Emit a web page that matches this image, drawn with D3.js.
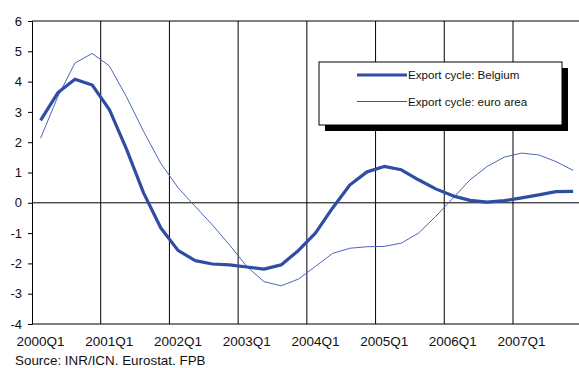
<!DOCTYPE html>
<html>
  <head>
    <meta charset="utf-8">
    <script src="https://d3js.org/d3.v7.min.js"></script>
    <style>
      body { margin: 0; background: white; font-family: "Liberation Sans", Arial, sans-serif; }
      svg { display: block; }
    </style>
  </head>
  <body>
    <script>
        var width = 579, height = 368;

        // quarters 2000Q1 .. 2007Q4
        var years = [2000, 2001, 2002, 2003, 2004, 2005, 2006, 2007];
        var quarters = [];
        years.forEach(function(yr){
            for (var q = 1; q <= 4; q++) quarters.push(yr + "Q" + q);
        });

        var belgium = [2.72, 3.63, 4.08, 3.89, 3.08, 1.77, 0.32, -0.83,
                       -1.57, -1.91, -2.02, -2.05, -2.12, -2.19, -2.05, -1.58,
                       -1.0, -0.17, 0.59, 1.02, 1.2, 1.09, 0.76, 0.46,
                       0.23, 0.08, 0.02, 0.07, 0.16, 0.26, 0.37, 0.38];
        var euroArea = [2.13, 3.5, 4.61, 4.93, 4.52, 3.5, 2.35, 1.3,
                        0.5, -0.12, -0.73, -1.39, -2.1, -2.6, -2.74, -2.52,
                        -2.1, -1.67, -1.5, -1.45, -1.44, -1.33, -1.0, -0.45,
                        0.15, 0.76, 1.2, 1.51, 1.64, 1.58, 1.36, 1.07];
        var yTicks = [-4, -3, -2, -1, 0, 1, 2, 3, 4, 5, 6];
        var xLabels = years.map(function(yr){ return yr + "Q1"; });
        var seriesNames = ["Export cycle: Belgium", "Export cycle: euro area"];

        var plotLeft = 32, plotTop = 21, plotBottom = 324, plotRight = 581.7;

        var x = d3.scaleBand().domain(quarters).range([plotLeft, plotRight]);
        var y = d3.scaleLinear().domain([-4, 6]).range([plotBottom, plotTop]);
        var cx = function(i){ return x(quarters[i]) + x.bandwidth() / 2; };

        var svg = d3.select("body").append("svg")
            .attr("width", width)
            .attr("height", height);

        var g = svg.append("g");

        // vertical gridlines at each year
        g.selectAll(".vgrid").data(xLabels.slice(1))
            .enter().append("line")
            .attr("x1", function(d){ return x(d); })
            .attr("x2", function(d){ return x(d); })
            .attr("y1", plotTop).attr("y2", plotBottom)
            .attr("stroke", "black").attr("stroke-width", 1);

        // frame lines: top, bottom, zero line
        [6, -4, 0].forEach(function(v){
            g.append("line")
                .attr("x1", plotLeft).attr("x2", width)
                .attr("y1", y(v)).attr("y2", y(v))
                .attr("stroke", "black").attr("stroke-width", 1);
        });

        // y axis (plain hyphen for negatives, like the original)
        var yAxis = d3.axisLeft(y).tickValues(yTicks).tickSize(4).tickPadding(6)
            .tickFormat(function(d){ return String(d); });
        var ya = g.append("g").attr("transform", "translate(" + plotLeft + ",0)").call(yAxis);
        ya.select(".domain").attr("stroke", "black");
        ya.selectAll("text").attr("font-size", 13).attr("fill", "#111")
            .attr("font-family", "Liberation Sans, Arial, sans-serif");

        // x labels
        g.selectAll(".xl").data(xLabels)
            .enter().append("text")
            .attr("x", function(d){ return x(d) + x.bandwidth() / 2; })
            .attr("y", 346)
            .attr("text-anchor", "middle")
            .attr("font-size", 13.5)
            .attr("fill", "#111")
            .text(function(d){ return d; });

        var line = d3.line()
            .x(function(d, i){ return cx(i); })
            .y(function(d){ return y(d); });

        g.append("path").datum(euroArea)
            .attr("d", line)
            .attr("fill", "none")
            .attr("stroke", "#4a68b8")
            .attr("stroke-width", 1);

        g.append("path").datum(belgium)
            .attr("d", line)
            .attr("fill", "none")
            .attr("stroke", "#2f4ea3")
            .attr("stroke-width", 3.2)
            .attr("stroke-linejoin", "round");

        // legend
        var legend = svg.append("g").attr("transform", "translate(319,62)");
        legend.append("rect")
            .attr("x", 6).attr("y", 6).attr("width", 243).attr("height", 63)
            .attr("fill", "black");
        legend.append("rect")
            .attr("x", 0).attr("y", 0).attr("width", 243).attr("height", 63)
            .attr("fill", "white").attr("stroke", "black").attr("stroke-width", 1);
        var lw = [3, 1], lc = ["#2f4ea3", "#3553a8"];
        seriesNames.forEach(function(name, i){
            var ly = 13 + i * 26.5;
            legend.append("line")
                .attr("x1", 38).attr("x2", 88)
                .attr("y1", ly).attr("y2", ly)
                .attr("stroke", lc[i]).attr("stroke-width", lw[i]);
            legend.append("text")
                .attr("x", 89).attr("y", ly + 4)
                .attr("font-size", 11.6)
                .attr("fill", "#111")
                .text(name);
        });

        // source
        svg.append("text")
            .attr("x", 15).attr("y", 365)
            .attr("font-size", 13.4)
            .attr("fill", "#111")
            .text("Source: INR/ICN. Eurostat. FPB");
    </script>
  </body>
</html>
